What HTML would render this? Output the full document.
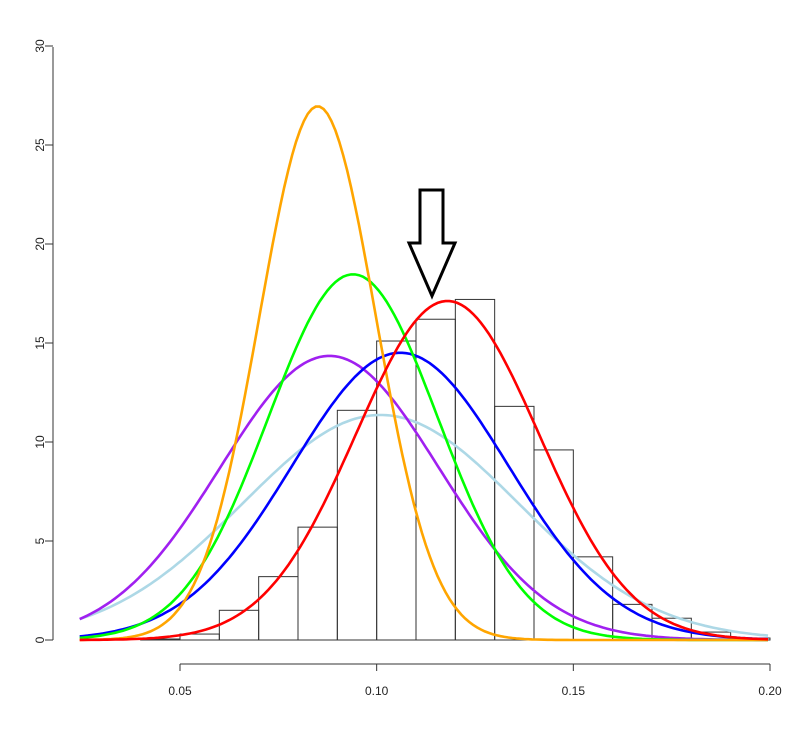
<!DOCTYPE html>
<html><head><style>body{margin:0;background:#fff}svg{display:block}</style></head>
<body>
<svg id="s" width="804" height="730" xmlns="http://www.w3.org/2000/svg" font-family="Liberation Sans, sans-serif" font-size="12" fill="#222">
<g stroke="#333" stroke-width="1" fill="none" id="ax">
<line x1="53" y1="47" x2="53" y2="640"/>
<line x1="180" y1="664" x2="770" y2="664"/>
</g>
<g id="hist" stroke="#333" fill="none" stroke-width="1"></g>
<g id="curves" fill="none" stroke-width="2.6"></g>
<polygon points="420,190 443,190 443,243 455,243 432,296 409,243 420,243" fill="none" stroke="#000" stroke-width="3"/>
<g id="lab"></g>
</svg>
<script>
var ns="http://www.w3.org/2000/svg";
function X(v){return 180+(v-0.05)*3933.3;}
function Y(v){return 640-v*19.8;}
function el(t,a,p,txt){var e=document.createElementNS(ns,t);for(var k in a)e.setAttribute(k,a[k]);if(txt!=null)e.textContent=txt;document.getElementById(p).appendChild(e);}
var ax='ax';
for(var i=0;i<=6;i++){var y=Y(i*5);el('line',{x1:45,y1:y,x2:53,y2:y},ax);
el('text',{x:0,y:0,transform:'translate(44,'+y+') rotate(-90)','text-anchor':'middle'},'lab',String(i*5));}
var xl=['0.05','0.10','0.15','0.20'];
for(var i=0;i<4;i++){var x=X(0.05+i*0.05);el('line',{x1:x,y1:664,x2:x,y2:671},ax);
el('text',{x:x,y:695,'text-anchor':'middle'},'lab',xl[i]);}
var h=[0.05,0.3,1.5,3.2,5.7,11.6,15.1,16.2,17.2,11.8,9.6,4.2,1.8,1.1,0.4,0.1];
for(var i=0;i<h.length;i++){var a=0.04+i*0.01;el('rect',{x:X(a),y:Y(h[i]),width:X(a+0.01)-X(a),height:h[i]*19.8},'hist');}
var c=[['#ADD8E6',0.101,0.0351],['#A020F0',0.088,0.0278],['#0000FF',0.106,0.0275],['#00FF00',0.094,0.0216],['#FFA500',0.085,0.0148],['#FF0000',0.118,0.0233]];
c.forEach(function(q){var d='';for(var v=0.0245;v<=0.2001;v+=0.001){var z=(v-q[1])/q[2];var f=Math.exp(-z*z/2)/(q[2]*2.5066);d+=(d?'L':'M')+X(v).toFixed(1)+','+Y(f).toFixed(1);}
el('path',{d:d,stroke:q[0]},'curves');});
</script>
</body></html>
